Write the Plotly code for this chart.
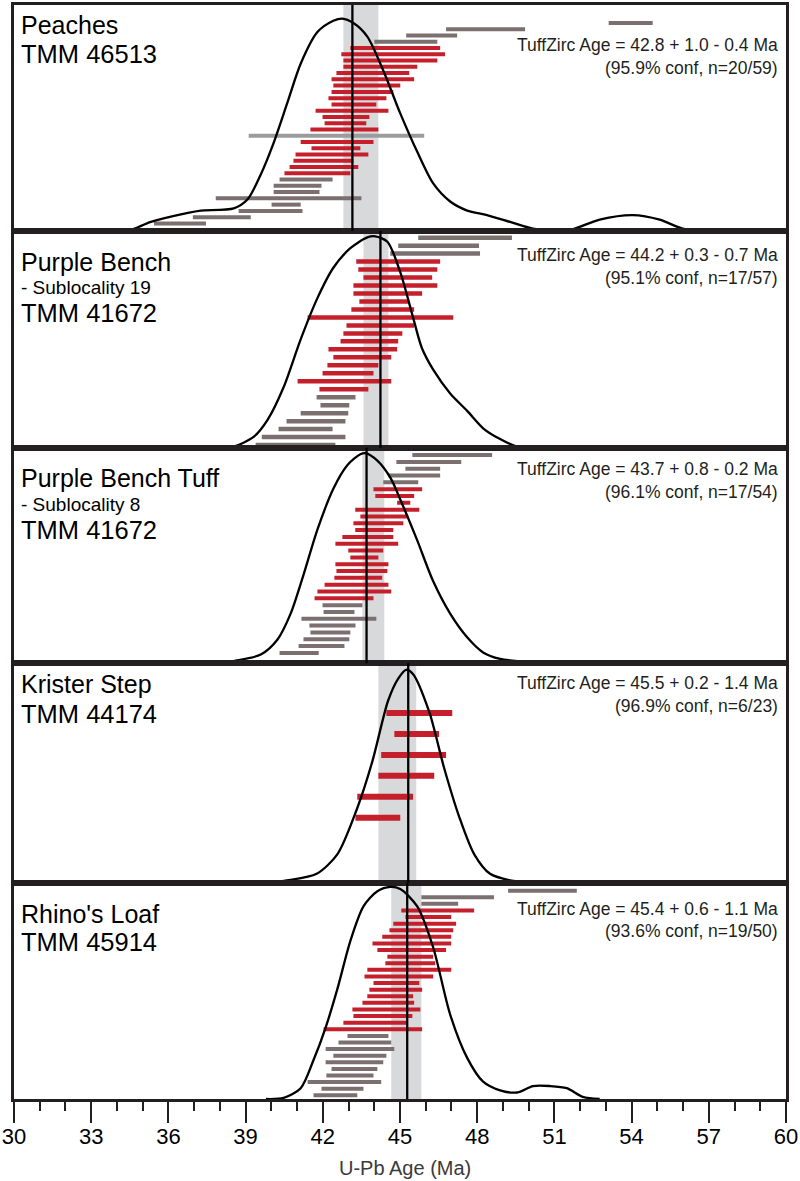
import plotly.graph_objects as go
from plotly.subplots import make_subplots

# ---------------- data (ages in Ma, listed top row first) ----------------
P1_LO = [53.11, 46.79, 45.24, 44.00, 43.07, 42.72, 42.80, 42.80, 42.53, 42.34, 42.41, 42.34, 42.22, 42.34,
         41.72, 41.99, 42.07, 41.52, 39.12, 41.14, 41.56, 40.94, 40.86, 40.71, 40.51, 40.32, 40.09, 40.09,
         37.84, 40.01, 38.73, 36.95, 35.44]
P1_HI = [54.82, 49.86, 47.22, 46.45, 46.56, 46.75, 46.45, 45.67, 45.36, 45.55, 45.01, 44.74, 44.47, 44.08,
         44.55, 43.81, 43.69, 44.16, 45.94, 43.97, 43.46, 43.77, 43.19, 43.38, 43.07, 42.38, 41.95, 41.87,
         43.50, 41.14, 41.21, 39.20, 37.46]
P1_KIND = list("ggggrrrrrrrrrrrrrrlrrrrrrgggggggg")

P2_LO = [45.71, 44.93, 44.62, 43.30, 43.38, 43.58, 43.19, 43.19, 43.42, 43.11, 41.41, 42.92, 42.80, 42.69,
         42.22, 42.41, 42.18, 41.99, 41.02, 41.87, 41.76, 41.91, 41.14, 40.59, 40.28, 39.63, 39.39]
P2_HI = [49.35, 48.07, 48.11, 46.56, 46.45, 46.25, 46.45, 45.86, 45.32, 45.55, 47.07, 45.55, 45.09, 44.93,
         44.89, 44.66, 44.16, 43.97, 44.66, 43.77, 43.27, 43.03, 42.99, 42.88, 42.38, 42.88, 42.49]
P2_KIND = list("gggrrrrrrrrrrrrrrrrrggggggg")

P3_LO = [45.48, 44.86, 45.21, 44.55, 44.35, 43.97, 44.04, 44.89, 43.26, 43.46, 43.19, 43.26, 42.76, 42.49,
         42.99, 43.07, 42.49, 42.53, 42.45, 42.07, 41.79, 41.68, 41.99, 42.03, 41.17, 41.48, 41.52, 41.25,
         41.06, 40.32]
P3_HI = [48.58, 47.38, 46.56, 46.56, 45.71, 45.86, 45.55, 45.40, 45.75, 45.32, 45.13, 44.74, 44.74, 44.93,
         44.35, 44.16, 44.55, 44.51, 44.31, 44.55, 44.66, 43.97, 43.54, 43.23, 44.08, 43.27, 43.07, 43.03,
         42.84, 41.84]
P3_KIND = list("gggggrrrrrrrrrrrrrrrrrgggggggg")

P4_LO = [44.47, 44.78, 44.27, 44.16, 43.34, 43.27]
P4_HI = [47.03, 46.52, 46.79, 46.33, 45.51, 45.01]
P4_KIND = list("rrrrrr")

P5_LO = [49.20, 45.83, 45.83, 45.05, 45.21, 44.74, 44.59, 44.31, 43.93, 44.12, 44.51, 44.43, 43.73, 43.62,
         43.97, 43.81, 43.73, 43.54, 43.15, 43.19, 42.80, 42.03, 42.96, 42.61, 42.11, 42.41, 42.11, 42.34,
         42.14, 41.41, 41.95, 41.64]
P5_HI = [51.87, 48.65, 47.26, 47.88, 46.99, 47.18, 47.07, 46.99, 46.99, 46.79, 46.29, 46.37, 46.99, 46.29,
         45.75, 45.86, 45.51, 45.55, 45.79, 45.48, 45.24, 45.86, 44.55, 44.66, 44.78, 44.47, 44.35, 44.12,
         43.97, 44.27, 43.58, 43.34]
P5_KIND = list("gggrrrrrrrrrrrrrrrrrrrgggggggggg")

# density curves (relative height)
P1_KDE_X = [33.38, 34.43, 35.32, 36.76, 37.26, 38.54, 39.08, 39.59, 40.09, 40.63, 41.14, 41.79, 42.41, 42.76,
            43.19, 43.73, 44.35, 45.01, 45.67, 46.29, 46.95, 47.61, 48.38, 49.27, 50.17, 51.48, 52.76, 54.04,
            55.09, 55.98, 57.03]
P1_KDE_Y = [0.0, 0.0, 0.04, 0.08, 0.09, 0.10, 0.14, 0.25, 0.39, 0.57, 0.74, 0.88, 0.93, 0.94, 0.92, 0.86,
            0.71, 0.52, 0.35, 0.21, 0.13, 0.09, 0.07, 0.04, 0.01, 0.0, 0.05, 0.07, 0.05, 0.01, 0.0]
P2_KDE_X = [38.24, 38.54, 39.31, 39.86, 40.48, 41.14, 41.79, 42.41, 43.07, 43.73, 44.04, 44.51, 45.01, 45.51,
            45.85, 46.29, 46.95, 47.61, 48.23, 48.89, 49.55, 50.05]
P2_KDE_Y = [0.0, 0.005, 0.05, 0.13, 0.28, 0.50, 0.69, 0.83, 0.92, 0.97, 0.975, 0.95, 0.81, 0.60, 0.46, 0.36,
            0.25, 0.17, 0.09, 0.04, 0.005, 0.0]
P3_KDE_X = [38.04, 38.54, 39.59, 40.24, 40.75, 41.25, 41.79, 42.41, 42.96, 43.46, 43.66, 44.12, 44.63, 45.01,
            45.67, 46.29, 46.95, 47.61, 48.23, 48.89, 49.55, 50.25]
P3_KDE_Y = [0.0, 0.01, 0.04, 0.11, 0.23, 0.41, 0.62, 0.81, 0.92, 0.97, 0.975, 0.94, 0.86, 0.76, 0.57, 0.38,
            0.23, 0.12, 0.05, 0.02, 0.01, 0.0]
P4_KDE_X = [39.98, 40.60, 41.76, 42.57, 43.34, 43.92, 44.54, 44.93, 45.24, 45.51, 46.13, 46.72, 47.30, 47.88,
            48.50, 49.28, 50.05]
P4_KDE_Y = [0.0, 0.01, 0.04, 0.13, 0.34, 0.55, 0.83, 0.93, 0.97, 0.95, 0.78, 0.52, 0.30, 0.13, 0.04, 0.01, 0.0]
P5_KDE_X = [39.79, 40.48, 41.14, 41.64, 42.11, 42.57, 43.07, 43.58, 44.12, 44.63, 45.01, 45.67, 46.29, 46.95,
            47.61, 48.23, 48.89, 49.55, 50.17, 50.83, 51.48, 52.10, 52.76]
P5_KDE_Y = [0.0, 0.005, 0.05, 0.18, 0.33, 0.51, 0.73, 0.89, 0.96, 0.98, 0.97, 0.89, 0.70, 0.39, 0.19, 0.08,
            0.04, 0.03, 0.06, 0.06, 0.05, 0.01, 0.0]

# TuffZirc age line and uncertainty band
AGE_LINE = [43.15, 44.24, 43.70, 45.32, 45.28]
AGE_BAND_LO = [42.80, 43.58, 43.54, 44.16, 44.66]
AGE_BAND_HI = [44.16, 44.55, 44.39, 45.63, 45.83]

NAMES = ["Peaches", "Purple Bench", "Purple Bench Tuff", "Krister Step", "Rhino's Loaf"]
SUBLOC = [None, "- Sublocality 19", "- Sublocality 8", None, None]
SPECIMEN = ["TMM 46513", "TMM 41672", "TMM 41672", "TMM 44174", "TMM 45914"]
AGE_TEXT = ["TuffZirc Age = 42.8 + 1.0 - 0.4 Ma", "TuffZirc Age = 44.2 + 0.3 - 0.7 Ma",
            "TuffZirc Age = 43.7 + 0.8 - 0.2 Ma", "TuffZirc Age = 45.5 + 0.2 - 1.4 Ma",
            "TuffZirc Age = 45.4 + 0.6 - 1.1 Ma"]
CONF_TEXT = ["(95.9% conf, n=20/59)", "(95.1% conf, n=17/57)", "(96.1% conf, n=17/54)",
             "(96.9% conf, n=6/23)", "(93.6% conf, n=19/50)"]
X_TITLE = "U-Pb Age (Ma)"

PANELS = [
    (P1_LO, P1_HI, P1_KIND, P1_KDE_X, P1_KDE_Y),
    (P2_LO, P2_HI, P2_KIND, P2_KDE_X, P2_KDE_Y),
    (P3_LO, P3_HI, P3_KIND, P3_KDE_X, P3_KDE_Y),
    (P4_LO, P4_HI, P4_KIND, P4_KDE_X, P4_KDE_Y),
    (P5_LO, P5_HI, P5_KIND, P5_KDE_X, P5_KDE_Y),
]

# ---------------- layout / style ----------------
W, H = 800, 1181
TOP, BOTTOM = 2, 1099
COLORS = {"r": "#c41f2b", "g": "#7b6f70", "l": "#9b9b9d"}
BAND = "#d8d9db"
FRAME = "#231f20"
ROW_RANGE = [[-1.19, 34.87], [-0.34, 26.85], [-1.51, 30.07], [-3.10, 7.38], [-0.56, 32.22]]
BAR_W = [4, 4.5, 4, 6, 4]
NAME_Y = [22.5, 259.5, 476.5, 683, 913]
SUB_Y = [None, 285, 503, None, None]
SPEC_Y = [51.5, 311, 528, 713, 942]
AGE_Y = [41.7, 253, 467.5, 682, 908]
CONF_Y = [65, 276, 490.5, 705, 931]


def py(y):
    return (BOTTOM - y) / (BOTTOM - TOP)


def px_(x):
    return (x - 13) / (W - 26)


fig = make_subplots(rows=5, cols=1, shared_xaxes=True, vertical_spacing=0,
                    row_heights=[226.5, 217.5, 216, 220, 217],
                    specs=[[{"secondary_y": True}]] * 5)

for i, (lo, hi, kind, kx, ky) in enumerate(PANELS):
    r = i + 1
    n = len(lo)
    for k in ["g", "l", "r"]:
        xs, ys = [], []
        for j in range(n):
            if kind[j] == k:
                xs += [lo[j], hi[j], None]
                ys += [n - 1 - j, n - 1 - j, None]
        if xs:
            fig.add_trace(go.Scatter(x=xs, y=ys, mode="lines", showlegend=False, hoverinfo="skip",
                                     line=dict(color=COLORS[k], width=BAR_W[i])),
                          row=r, col=1, secondary_y=False)
    fig.add_trace(go.Scatter(x=kx, y=ky, mode="lines", showlegend=False,
                             line=dict(color="black", width=2.3, shape="spline", smoothing=0.8)),
                  row=r, col=1, secondary_y=True)
    fig.add_vrect(x0=AGE_BAND_LO[i], x1=AGE_BAND_HI[i], fillcolor=BAND, line_width=0, layer="below",
                  row=r, col=1)
    fig.add_vline(x=AGE_LINE[i], line=dict(color="black", width=2.3), layer="above", row=r, col=1)
    fig.update_yaxes(range=ROW_RANGE[i], showline=True, mirror=True, linecolor=FRAME, linewidth=3,
                     showgrid=False, zeroline=False, showticklabels=False, ticks="",
                     row=r, col=1, secondary_y=False)
    fig.update_yaxes(range=[0, 1.0], visible=False, showgrid=False, row=r, col=1, secondary_y=True)

    # text
    fig.add_annotation(x=px_(18), y=py(NAME_Y[i]), xref="paper", yref="paper", text=NAMES[i],
                       showarrow=False, xanchor="left", yanchor="middle",
                       font=dict(family="Liberation Sans, Arial", size=25, color="black"))
    if SUBLOC[i]:
        fig.add_annotation(x=px_(18), y=py(SUB_Y[i]), xref="paper", yref="paper", text=SUBLOC[i],
                           showarrow=False, xanchor="left", yanchor="middle",
                           font=dict(family="Liberation Sans, Arial", size=19, color="black"))
    fig.add_annotation(x=px_(18), y=py(SPEC_Y[i]), xref="paper", yref="paper", text=SPECIMEN[i],
                       showarrow=False, xanchor="left", yanchor="middle",
                       font=dict(family="Liberation Sans, Arial", size=25.5, color="black"))
    fig.add_annotation(x=px_(781), y=py(AGE_Y[i]), xref="paper", yref="paper", text=AGE_TEXT[i],
                       showarrow=False, xanchor="right", yanchor="middle",
                       font=dict(family="Liberation Sans, Arial", size=17.5, color=FRAME))
    fig.add_annotation(x=px_(781), y=py(CONF_Y[i]), xref="paper", yref="paper", text=CONF_TEXT[i],
                       showarrow=False, xanchor="right", yanchor="middle",
                       font=dict(family="Liberation Sans, Arial", size=17.5, color=FRAME))

# full-width panels (secondary axes are hidden)
fig.update_xaxes(domain=[0, 1], range=[30, 60], showline=True, mirror=True, linecolor=FRAME, linewidth=3,
                 showgrid=False, zeroline=False, ticks="", showticklabels=False)
fig.update_xaxes(row=5, col=1, ticks="outside", tick0=30, dtick=3, ticklen=21, tickwidth=2,
                 tickcolor=FRAME, showticklabels=True, ticklabelstandoff=-5,
                 tickfont=dict(family="Liberation Sans, Arial", size=22, color="black"),
                 minor=dict(ticks="outside", dtick=1, tick0=30, ticklen=9, tickwidth=1.6,
                            tickcolor=FRAME))

fig.add_annotation(x=px_(405), y=py(1168), xref="paper", yref="paper", text=X_TITLE, showarrow=False,
                   xanchor="center", yanchor="middle",
                   font=dict(family="Liberation Sans, Arial", size=20, color="#3a3a3a"))

fig.update_layout(width=W, height=H, paper_bgcolor="white", plot_bgcolor="white",
                  margin=dict(l=13, r=13, t=TOP, b=H - BOTTOM), showlegend=False)

fig.write_html("out.html", config={"displayModeBar": False},
               post_script="document.body.style.margin = '0';")
